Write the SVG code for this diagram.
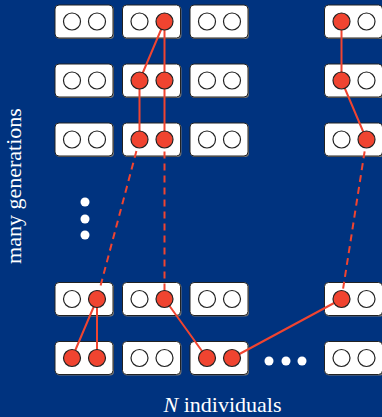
<svg xmlns="http://www.w3.org/2000/svg" width="382" height="417" viewBox="0 0 382 417">
<style>
.bg{fill:#00337f}
.box{fill:#fff;stroke:#222;stroke-width:1}
.sh{fill:#777}
.e{fill:#fff;stroke:#222;stroke-width:1.2}
.r{fill:#f04430;stroke:#222;stroke-width:1.2}
.ln{stroke:#f04430;stroke-width:2;fill:none}
.dl{stroke:#f04430;stroke-width:2;fill:none;stroke-dasharray:7,5}
.dot{fill:#fff}
.lbl{fill:#fff;font-family:"Liberation Serif","Times New Roman",serif;font-size:22px}
</style>
<defs>
<g id="b"><rect class="sh" x="1" y="1" width="58" height="33" rx="4"/><rect class="box" x="0" y="0" width="58" height="33" rx="4"/></g>
</defs>
<rect class="bg" x="0" y="0" width="382" height="417"/>
<g id="boxes">
<use href="#b" x="55" y="5"/><use href="#b" x="122.5" y="5"/><use href="#b" x="190" y="5"/><use href="#b" x="324.5" y="5"/>
<use href="#b" x="55" y="64"/><use href="#b" x="122.5" y="64"/><use href="#b" x="190" y="64"/><use href="#b" x="324.5" y="64"/>
<use href="#b" x="55" y="123"/><use href="#b" x="122.5" y="123"/><use href="#b" x="190" y="123"/><use href="#b" x="324.5" y="123"/>
<use href="#b" x="55" y="282.5"/><use href="#b" x="122.5" y="282.5"/><use href="#b" x="190" y="282.5"/><use href="#b" x="324.5" y="282.5"/>
<use href="#b" x="55" y="341.5"/><use href="#b" x="122.5" y="341.5"/><use href="#b" x="190" y="341.5"/><use href="#b" x="324.5" y="341.5"/>
</g>
<g id="connectors">
<path class="ln" d="M164.5 21.5L139.5 80.5M164.5 21.5L164.5 80.5M139.5 80.5L139.5 139.5M164.5 80.5L164.5 139.5"/>
<path class="dl" d="M139.5 139.5L97 299M164.5 139.5L164.5 299"/>
<path class="ln" d="M97 299L72 358M97 299L97 358M164.5 299L207 358M232 358L341.5 299"/>
<path class="ln" d="M341.5 21.5L341.5 80.5L366.5 139.5"/>
<path class="dl" d="M366.5 139.5L341.5 299"/>
</g>
<g id="alleles">
<circle class="e" cx="72" cy="21.5" r="8.5"/><circle class="e" cx="97" cy="21.5" r="8.5"/>
<circle class="e" cx="139.5" cy="21.5" r="8.5"/><circle class="r" cx="164.5" cy="21.5" r="8.5"/>
<circle class="e" cx="207" cy="21.5" r="8.5"/><circle class="e" cx="232" cy="21.5" r="8.5"/>
<circle class="r" cx="341.5" cy="21.5" r="8.5"/><circle class="e" cx="366.5" cy="21.5" r="8.5"/>

<circle class="e" cx="72" cy="80.5" r="8.5"/><circle class="e" cx="97" cy="80.5" r="8.5"/>
<circle class="r" cx="139.5" cy="80.5" r="8.5"/><circle class="r" cx="164.5" cy="80.5" r="8.5"/>
<circle class="e" cx="207" cy="80.5" r="8.5"/><circle class="e" cx="232" cy="80.5" r="8.5"/>
<circle class="r" cx="341.5" cy="80.5" r="8.5"/><circle class="e" cx="366.5" cy="80.5" r="8.5"/>

<circle class="e" cx="72" cy="139.5" r="8.5"/><circle class="e" cx="97" cy="139.5" r="8.5"/>
<circle class="r" cx="139.5" cy="139.5" r="8.5"/><circle class="r" cx="164.5" cy="139.5" r="8.5"/>
<circle class="e" cx="207" cy="139.5" r="8.5"/><circle class="e" cx="232" cy="139.5" r="8.5"/>
<circle class="e" cx="341.5" cy="139.5" r="8.5"/><circle class="r" cx="366.5" cy="139.5" r="8.5"/>

<circle class="e" cx="72" cy="299" r="8.5"/><circle class="r" cx="97" cy="299" r="8.5"/>
<circle class="e" cx="139.5" cy="299" r="8.5"/><circle class="r" cx="164.5" cy="299" r="8.5"/>
<circle class="e" cx="207" cy="299" r="8.5"/><circle class="e" cx="232" cy="299" r="8.5"/>
<circle class="r" cx="341.5" cy="299" r="8.5"/><circle class="e" cx="366.5" cy="299" r="8.5"/>

<circle class="r" cx="72" cy="358" r="8.5"/><circle class="r" cx="97" cy="358" r="8.5"/>
<circle class="e" cx="139.5" cy="358" r="8.5"/><circle class="e" cx="164.5" cy="358" r="8.5"/>
<circle class="r" cx="207" cy="358" r="8.5"/><circle class="r" cx="232" cy="358" r="8.5"/>
<circle class="e" cx="341.5" cy="358" r="8.5"/><circle class="e" cx="366.5" cy="358" r="8.5"/>
</g>
<g id="ellipsis">
<circle class="dot" cx="85" cy="202" r="4.5"/><circle class="dot" cx="85" cy="219" r="4.5"/><circle class="dot" cx="85" cy="235" r="4.5"/>
<circle class="dot" cx="269" cy="361" r="4.5"/><circle class="dot" cx="286" cy="361" r="4.5"/><circle class="dot" cx="302" cy="361" r="4.5"/>
</g>
<text class="lbl" text-anchor="middle" transform="translate(21 186) rotate(-90)">many generations</text>
<text class="lbl" x="222.5" y="412" text-anchor="middle"><tspan font-style="italic">N</tspan> individuals</text>
</svg>
